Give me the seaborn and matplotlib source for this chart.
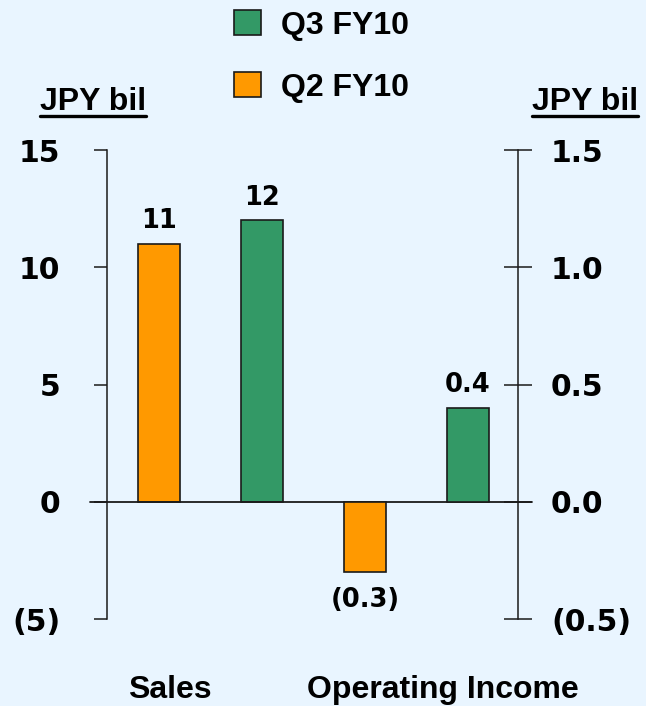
import matplotlib
matplotlib.use("Agg")
import matplotlib.pyplot as plt
from matplotlib.lines import Line2D
from matplotlib.patches import Patch
import seaborn as sns
import pandas as pd

# data
slots = ["Sales Q2", "Sales Q3", "OI Q2", "OI Q3"]
periods = ["Q2 FY10", "Q3 FY10"]
sales_slots = ["Sales Q2", "Sales Q3"]
sales_vals = [11, 12]
sales_labels = ["11", "12"]
oi_slots = ["OI Q2", "OI Q3"]
oi_vals = [-0.3, 0.4]
oi_labels = ["(0.3)", "0.4"]
left_ticks = [-5, 0, 5, 10, 15]
left_ticklabels = ["(5)", "0", "5", "10", "15"]
right_ticks = [-0.5, 0.0, 0.5, 1.0, 1.5]
right_ticklabels = ["(0.5)", "0.0", "0.5", "1.0", "1.5"]
groups = ["Sales", "Operating Income"]

palette = {"Q2 FY10": "#FF9900", "Q3 FY10": "#339966"}
bg = "#E9F5FF"
ink = "#1a1a1a"
fs = 23
num_font = ["DejaVu Sans"]

sns.set_style("white")
plt.rcParams["font.family"] = ["Liberation Sans", "DejaVu Sans"]
plt.rcParams["font.weight"] = "bold"
plt.rcParams["text.color"] = "black"
plt.rcParams["ytick.labelcolor"] = "black"

sales_df = pd.DataFrame({"slot": sales_slots, "value": sales_vals, "period": periods})
oi_df = pd.DataFrame({"slot": oi_slots, "value": oi_vals, "period": periods})

fig = plt.figure(figsize=(6.46, 7.06), dpi=100, facecolor=bg)
ax = fig.add_axes([0.1656, 0.1232, 0.6362, 0.6643])
ax.set_facecolor(bg)
ax2 = ax.twinx()
ax2.patch.set_visible(False)

sns.barplot(data=sales_df, x="slot", y="value", hue="period", order=slots,
            hue_order=periods, palette=palette, dodge=False, width=0.4, saturation=1,
            edgecolor=ink, linewidth=1.2, legend=False, ax=ax)
sns.barplot(data=oi_df, x="slot", y="value", hue="period", order=slots,
            hue_order=periods, palette=palette, dodge=False, width=0.4, saturation=1,
            edgecolor=ink, linewidth=1.2, legend=False, ax=ax2)

# value labels (containers follow hue order: Q2 then Q3)
for a, labs, vals in [(ax, sales_labels, sales_vals), (ax2, oi_labels, oi_vals)]:
    for c, lab, v in zip(a.containers, labs, vals):
        a.bar_label(c, labels=[lab], padding=7 if v > 0 else 11, fontsize=18.5,
                    fontweight="bold", family=num_font, color="black")

ax.set_xlim(-0.505, 3.485)
ax.set_ylim(-5, 15)
ax2.set_ylim(-0.5, 1.5)

ax.set_yticks(left_ticks)
ax.set_yticklabels(left_ticklabels, fontsize=21.5, fontweight="bold", family=num_font)
ax2.set_yticks(right_ticks)
ax2.set_yticklabels(right_ticklabels, fontsize=21.5, fontweight="bold", family=num_font)
ax.tick_params(axis="y", direction="out", length=9.5, width=1.1, color=ink,
               labelcolor="black", pad=24)
ax2.tick_params(axis="y", direction="inout", length=19.5, width=1.1, color=ink,
                labelcolor="black", pad=14)
ax.set_xticks([])
ax.set_xlabel("")
ax.set_ylabel("")
ax2.set_ylabel("")

for a in (ax, ax2):
    for s in ["top", "bottom"]:
        a.spines[s].set_visible(False)
ax.spines["right"].set_visible(False)
ax.spines["left"].set_color(ink)
ax.spines["left"].set_linewidth(1.1)
ax2.spines["left"].set_visible(False)
ax2.spines["right"].set_color(ink)
ax2.spines["right"].set_linewidth(1.1)

# zero line extending past both spines
ax.axhline(0, xmin=-0.041, xmax=1.034, color=ink, lw=1.3, clip_on=False, zorder=5)

# unit labels, underlined
renderer = fig.canvas.get_renderer()
for xc in [93 / 646, 585 / 646]:
    t = fig.text(xc, 1 - 102 / 706, "JPY bil", ha="center", va="center",
                 fontsize=fs, fontweight="bold")
    bb = t.get_window_extent(renderer).transformed(fig.transFigure.inverted())
    fig.add_artist(Line2D([bb.x0, bb.x1], [bb.y0 + 0.001, bb.y0 + 0.001],
                          transform=fig.transFigure, color="black", lw=2.4))

# category labels
fig.text(170 / 646, 1 - 690 / 706, groups[0], ha="center", va="center",
         fontsize=fs, fontweight="bold")
fig.text(443 / 646, 1 - 690 / 706, groups[1], ha="center", va="center",
         fontsize=fs, fontweight="bold")

handles = [Patch(facecolor=palette[p], edgecolor=ink, linewidth=1.2) for p in periods[::-1]]
fig.legend(handles, periods[::-1], loc="upper left", bbox_to_anchor=(218 / 646, 1 + 6 / 706),
           frameon=False, handlelength=0.85, handleheight=0.85, borderpad=0,
           handletextpad=0.62, labelspacing=0.97, labelcolor="black",
           prop={"weight": "bold", "size": fs})

fig.savefig("out.png", dpi=100, facecolor=bg)
